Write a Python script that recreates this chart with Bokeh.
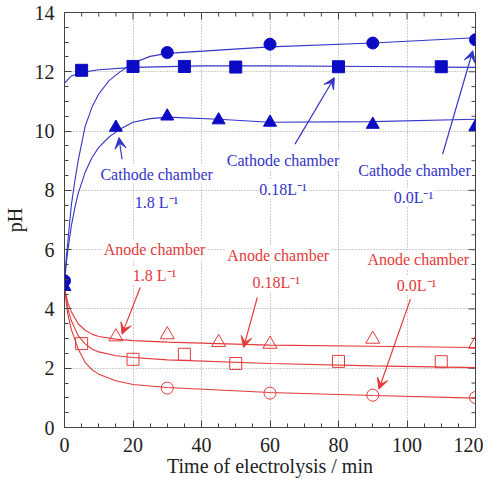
import numpy as np
from bokeh.plotting import figure
from bokeh.models import Label, Arrow, VeeHead, SingleIntervalTicker, Range1d
from bokeh.embed import file_html
from bokeh.resources import INLINE

# ---------------- data ----------------
# Cathode chamber (filled blue markers)
cath_00_t = [0, 30, 60, 90, 120]                    # 0.0 L^-1, circles
cath_00_ph = [4.95, 12.65, 12.93, 12.97, 13.08]
cath_018_t = [5, 20, 35, 50, 80, 110]               # 0.18 L^-1, squares
cath_018_ph = [12.05, 12.18, 12.18, 12.16, 12.17, 12.17]
cath_18_t = [0, 15, 30, 45, 60, 90, 120]            # 1.8 L^-1, triangles
cath_18_ph = [4.75, 10.12, 10.5, 10.37, 10.29, 10.22, 10.15]

# Anode chamber (open red markers)
an_00_t = [30, 60, 90, 120]                         # 0.0 L^-1, circles
an_00_ph = [1.33, 1.16, 1.09, 1.01]
an_018_t = [5, 20, 35, 50, 80, 110]                 # 0.18 L^-1, squares
an_018_ph = [2.83, 2.3, 2.47, 2.16, 2.23, 2.22]
an_18_t = [15, 30, 45, 60, 90, 120]                 # 1.8 L^-1, triangles
an_18_ph = [3.06, 3.13, 2.87, 2.81, 2.98, 2.81]

# Fitted curves
fit_cath_00_t = [0, 0.5, 1, 2, 3, 4, 6, 8, 10, 13, 16, 20, 25, 30, 60, 90, 120]
fit_cath_00_ph = [4.9, 5.7, 6.3, 7.5, 8.3, 9.0, 10.15, 10.8, 11.25, 11.7, 11.98, 12.3, 12.52, 12.62, 12.84, 12.97, 13.15]
fit_cath_018_t = [0, 2, 5, 10, 20, 40, 60, 90, 120]
fit_cath_018_ph = [11.62, 11.86, 11.98, 12.07, 12.15, 12.2, 12.2, 12.18, 12.15]
fit_cath_18_t = [0, 0.5, 1, 2, 3, 4, 6, 8, 10, 13, 16, 20, 25, 30, 45, 60, 90, 120]
fit_cath_18_ph = [4.8, 5.5, 6.0, 6.8, 7.4, 7.9, 8.6, 9.1, 9.45, 9.8, 10.05, 10.3, 10.42, 10.47, 10.4, 10.3, 10.32, 10.4]

fit_an_t = [0, 1, 2, 4, 6, 8, 10, 15, 20, 30, 60, 90, 120]
fit_an_18_ph = [4.7, 4.2, 3.9, 3.5, 3.28, 3.15, 3.07, 2.98, 2.93, 2.88, 2.78, 2.74, 2.7]
fit_an_018_ph = [4.7, 4.0, 3.6, 3.1, 2.82, 2.65, 2.55, 2.42, 2.36, 2.28, 2.16, 2.08, 2.02]
fit_an_00_ph = [4.7, 3.8, 3.3, 2.65, 2.2, 1.95, 1.8, 1.58, 1.45, 1.35, 1.18, 1.08, 0.99]

x_ticks = [0, 20, 40, 60, 80, 100, 120]
y_ticks = [0, 2, 4, 6, 8, 10, 12, 14]

BLUE = "#0b0bc4"
BLUE_T = "#3434c8"
RED = "#e23b3b"
FONT = "Liberation Serif"
AX = "#444444"

X0, X1 = x_ticks[0], x_ticks[-1]
Y0, Y1 = y_ticks[0], y_ticks[-1]

p = figure(width=483, height=480, x_range=Range1d(X0, X1), y_range=Range1d(Y0, Y1),
           output_backend="svg", toolbar_location=None,
           min_border_left=59, min_border_right=8, min_border_top=12, min_border_bottom=53,
           x_axis_label="Time of electrolysis / min", y_axis_label="pH")
p.outline_line_color = AX
p.outline_line_width = 1
p.background_fill_color = "white"
p.border_fill_color = "white"

p.xaxis.ticker = SingleIntervalTicker(interval=20, num_minor_ticks=4)
p.yaxis.ticker = SingleIntervalTicker(interval=2, num_minor_ticks=4)
for ax in p.xaxis + p.yaxis:
    ax.major_tick_in = 7
    ax.major_tick_out = 0
    ax.minor_tick_in = 4
    ax.minor_tick_out = 0
    ax.axis_line_color = AX
    ax.major_tick_line_color = AX
    ax.minor_tick_line_color = AX
    ax.major_label_text_font = FONT
    ax.major_label_text_font_size = "20px"
    ax.major_label_text_color = "#222222"
    ax.axis_label_text_font = FONT
    ax.axis_label_text_font_size = "20px"
    ax.axis_label_text_font_style = "normal"
    ax.axis_label_text_color = "#222222"
p.xaxis.major_label_standoff = 10
p.xaxis.axis_label_standoff = 0
p.yaxis.major_label_standoff = 10
p.yaxis.axis_label_standoff = 6

p.xgrid.grid_line_color = "#9a9a9a"
p.ygrid.grid_line_color = "#9a9a9a"
p.xgrid.grid_line_dash = "1 2"
p.ygrid.grid_line_dash = "1 2"

# inward ticks on top and right frame edges
x_minor = [v for v in np.arange(X0, X1 + 0.01, 5) if v not in x_ticks]
y_minor = [v for v in np.arange(Y0, Y1 + 0.01, 0.5) if v not in y_ticks]
p.ray(x=x_ticks, y=[Y1] * len(x_ticks), length=7, angle=-np.pi / 2, length_units="screen",
      line_color=AX, line_width=1)
p.ray(x=x_minor, y=[Y1] * len(x_minor), length=4, angle=-np.pi / 2, length_units="screen",
      line_color=AX, line_width=1)
p.ray(x=[X1] * len(y_ticks), y=y_ticks, length=7, angle=np.pi, length_units="screen",
      line_color=AX, line_width=1)
p.ray(x=[X1] * len(y_minor), y=y_minor, length=4, angle=np.pi, length_units="screen",
      line_color=AX, line_width=1)

# fitted curves
for t, ph in ((fit_cath_00_t, fit_cath_00_ph), (fit_cath_018_t, fit_cath_018_ph),
              (fit_cath_18_t, fit_cath_18_ph)):
    p.line(t, ph, line_color=BLUE_T, line_width=1.1)
for ph in (fit_an_18_ph, fit_an_018_ph, fit_an_00_ph):
    p.line(fit_an_t, ph, line_color=RED, line_width=1.1)

# anode markers (open)
p.scatter(an_00_t, an_00_ph, marker="circle", size=12, fill_color=None, line_color=RED, line_width=1)
p.scatter(an_018_t, an_018_ph, marker="square", size=12, fill_color=None, line_color=RED, line_width=1)
p.scatter(an_18_t, an_18_ph, marker="triangle", size=14, fill_color=None, line_color=RED, line_width=1)

# cathode markers (filled)
p.scatter(cath_00_t, cath_00_ph, marker="circle", size=12, fill_color=BLUE, line_color=BLUE)
p.scatter(cath_018_t, cath_018_ph, marker="square", size=12, fill_color=BLUE, line_color=BLUE)
p.scatter(cath_18_t, cath_18_ph, marker="triangle", size=13, fill_color=BLUE, line_color=BLUE)

# labels
labels = [
    ("Cathode chamber", 26.9, 8.55, BLUE_T), ("1.8 L\u207b\u00b9", 26.9, 7.59, BLUE_T),
    ("Cathode chamber", 63.8, 9.01, BLUE_T), ("0.18L\u207b\u00b9", 63.8, 8.03, BLUE_T),
    ("Cathode chamber", 102.2, 8.67, BLUE_T), ("0.0L\u207b\u00b9", 101.9, 7.76, BLUE_T),
    ("Anode chamber", 26.3, 6.0, RED), ("1.8 L\u207b\u00b9", 26.3, 5.13, RED),
    ("Anode chamber", 62.4, 5.8, RED), ("0.18L\u207b\u00b9", 61.8, 4.89, RED),
    ("Anode chamber", 103.3, 5.67, RED), ("0.0L\u207b\u00b9", 102.8, 4.79, RED),
]
for txt, x, y, c in labels:
    p.add_layout(Label(x=x, y=y, text=txt, text_align="center", text_baseline="middle",
                       text_font=FONT, text_font_size="16px", text_color=c,
                       background_fill_color="white", padding=1))

arrows = [
    (16.8, 9.05, 15.9, 9.78, BLUE_T),
    (67.3, 9.56, 78.8, 11.8, BLUE_T),
    (110.4, 9.22, 119.2, 12.71, BLUE_T),
    (22.1, 4.72, 16.8, 3.15, RED),
    (56.3, 4.39, 52.3, 2.7, RED),
    (101.0, 4.33, 91.8, 1.29, RED),
]
for x0, y0, x1, y1, c in arrows:
    p.add_layout(Arrow(x_start=x0, y_start=y0, x_end=x1, y_end=y1, line_color=c, line_width=1.2,
                       end=VeeHead(size=11, fill_color=c, line_color=c)))

open("out.html", "w").write(file_html(p, INLINE))
